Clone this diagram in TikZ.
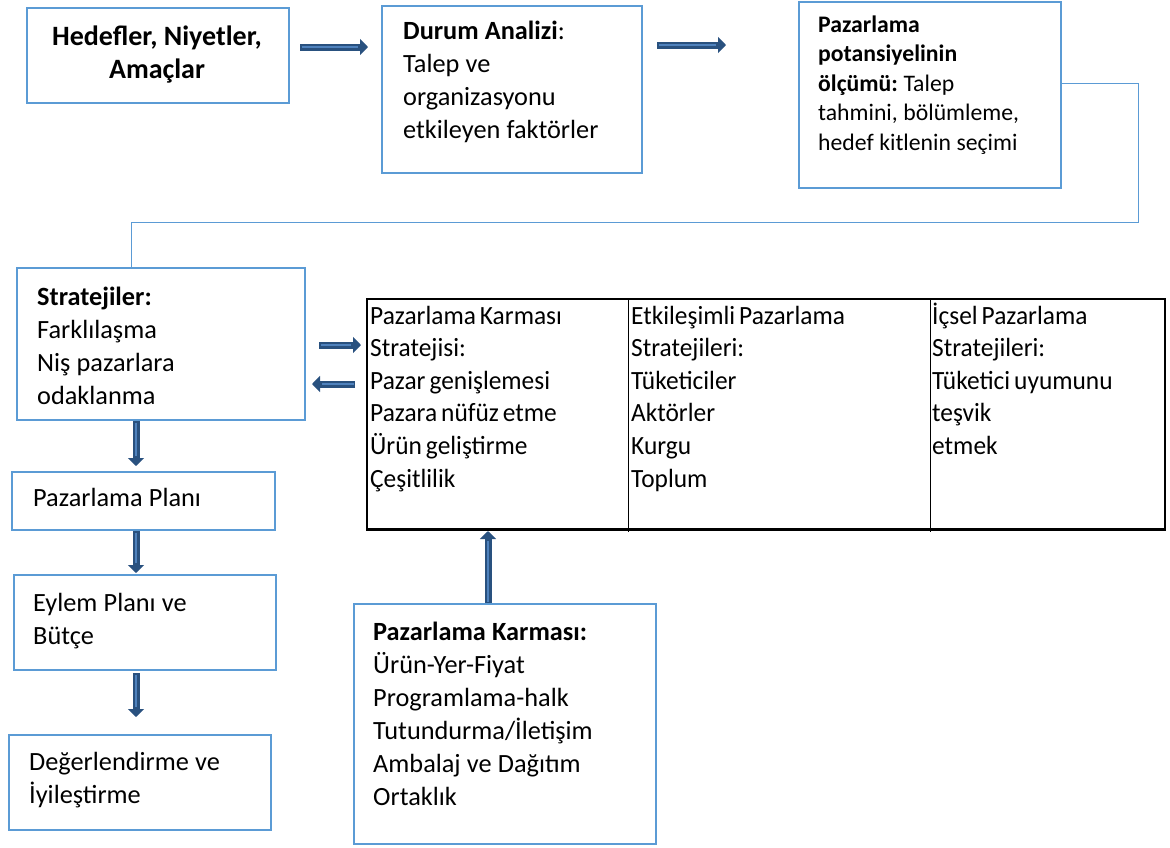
\documentclass[tikz,border=0pt]{standalone}
\usepackage{fontspec}
\setmainfont{Carlito}
\newfontfamily\narrowfont{Carlito}[FakeStretch=0.965]
\usetikzlibrary{arrows.meta}
\definecolor{boxblue}{HTML}{5B9BD5}
\definecolor{arrowblue}{HTML}{29517F}
\definecolor{arrowlight}{HTML}{4F82BD}
\begin{document}
\begin{tikzpicture}[x=1pt,y=-1pt,
  box/.style={draw=boxblue, line width=2pt, anchor=north west, inner sep=0},
  link/.style={draw=boxblue, line width=1pt},
  blockarr/.style={draw=arrowblue, line width=7pt, -{Triangle[length=8pt,width=16pt]}},
  arrowshine/.style={draw=arrowlight, line width=2.2pt, shorten <=1.5pt, shorten >=10pt},
  gap/.style={execute at begin node={\spaceskip=#1\relax\xspaceskip=#1\relax}},
  txt/.style={anchor=base west, inner sep=0, text width=#1, gap=6.2pt,
    font=\fontsize{26.3}{33}\selectfont},
  txt/.default=270pt,
  smalltxt/.style={txt=250pt, gap=5.6pt, font=\fontsize{23.7}{29.5}\selectfont},
  tabtxt/.style={txt=280pt, gap=4pt, font=\narrowfont\fontsize{26.3}{32.6}\selectfont}]
\useasboundingbox (0,0) rectangle (1170,847);

% top row
\node[box, minimum width=262pt, minimum height=95pt] (hed) at (26,7) {};
\node[anchor=base, inner sep=0, align=center, text width=262pt,
  font=\fontsize{28}{33}\selectfont\bfseries] (hedT) at (157,45)
  {\spaceskip=0.23em Hedefler, Niyetler,\\Amaçlar};
\node[box, minimum width=260pt, minimum height=167pt] (dur) at (381,5) {};
\node[txt] (durT) at (403,39) {\textbf{Durum Analizi}:\\Talep ve\\organizasyonu\\etkileyen faktörler};
\node[box, minimum width=262pt, minimum height=186pt] (pot) at (798,1) {};
\node[smalltxt] (potT) at (818,32) {\textbf{Pazarlama}\\\textbf{potansiyelinin}\\\textbf{ölçümü:} Talep\\tahmini, bölümleme,\\hedef kitlenin seçimi};

% left column
\node[box, minimum width=288pt, minimum height=152pt] (str) at (16,267) {};
\node[txt] (strT) at (37,305) {\textbf{Stratejiler:}\\Farklılaşma\\Niş pazarlara\\odaklanma};
\node[box, minimum width=263pt, minimum height=58pt] (plan) at (11,471) {};
\node[txt] (planT) at (33,506) {Pazarlama Planı};
\node[box, minimum width=262pt, minimum height=95pt] (eyl) at (13,574) {};
\node[txt] (eylT) at (33,611) {Eylem Planı ve\\Bütçe};
\node[box, minimum width=262pt, minimum height=95pt] (deg) at (8,734) {};
\node[txt] (degT) at (29,770) {Değerlendirme ve\\İyileştirme};

% strategy table
\node[draw=black, line width=2pt, anchor=north west, inner sep=0, minimum width=798pt, minimum height=230pt] (tab) at (366,298) {};
\draw[line width=2.5pt] (tab.south west) -- (tab.south east);
\draw[line width=1pt] (628,298) -- (628,532);
\draw[line width=1pt] (930,298) -- (930,532);
\node[tabtxt] (c1) at (370,324) {Pazarlama Karması\\Stratejisi:\\Pazar genişlemesi\\Pazara nüfüz etme\\Ürün geliştirme\\Çeşitlilik};
\node[tabtxt] (c2) at (631,324) {Etkileşimli Pazarlama\\Stratejileri:\\Tüketiciler\\Aktörler\\Kurgu\\Toplum};
\node[tabtxt] (c3) at (932,324) {İçsel Pazarlama\\Stratejileri:\\Tüketici uyumunu\\teşvik\\etmek};

% marketing mix box
\node[box, minimum width=302pt, minimum height=240pt] (mix) at (353,603) {};
\node[txt] (mixT) at (373,640) {\textbf{Pazarlama Karması:}\\Ürün-Yer-Fiyat\\Programlama-halk\\Tutundurma/İletişim\\Ambalaj ve Dağıtım\\Ortaklık};

% thin connector from the measurement box to the strategies box
\draw[link] (pot.east |- 0,83) -- (1138,83) -- (1138,222) -- (131,222) -- (str.north -| 131,0);

% block arrow end points
\coordinate (a1s) at (300,47); \coordinate (a1e) at (368,47);
\coordinate (a2s) at (657,45); \coordinate (a2e) at (726,45);
\coordinate (a3s) at (319,345); \coordinate (a3e) at (361,345);
\coordinate (a4s) at (355,384); \coordinate (a4e) at (312,384);
\coordinate (a5s) at (136,421); \coordinate (a5e) at (136,466);
\coordinate (a6s) at (136,531); \coordinate (a6e) at (136,573);
\coordinate (a7s) at (136,673); \coordinate (a7e) at (136,717);
\coordinate (a8s) at (488,603); \coordinate (a8e) at (488,531);
\foreach \i in {1,...,8} {
  \draw[blockarr] (a\i s) -- (a\i e);
  \draw[arrowshine] (a\i s) -- (a\i e);
}
\end{tikzpicture}
\end{document}
